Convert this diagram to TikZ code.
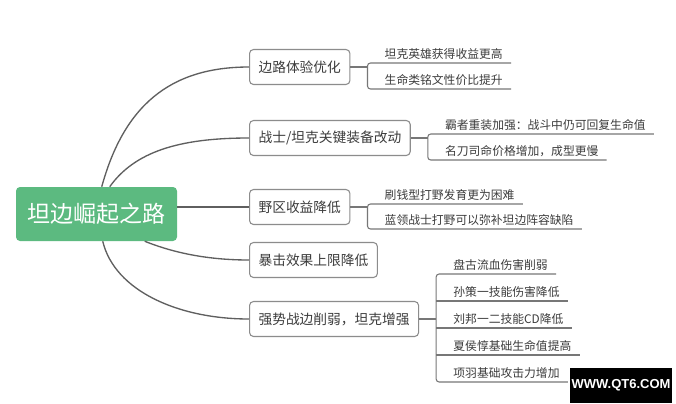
\documentclass[tikz,border=0pt]{standalone}
\usepackage{fontspec}
\setmainfont{Noto Sans CJK SC}
\newfontfamily\wmfont{Liberation Sans}
\usetikzlibrary{calc}
\definecolor{rootgreen}{RGB}{92,186,128}
\definecolor{linegray}{RGB}{95,95,95}
\definecolor{boxgray}{RGB}{140,140,140}
\definecolor{txtgray}{RGB}{60,60,60}
\begin{document}
\begin{tikzpicture}[x=0.75pt,y=-0.75pt,
  rootnode/.style={fill=rootgreen, rounded corners=3pt, text=white,
    font=\fontsize{17.25pt}{20pt}\selectfont,
    minimum width=120.75pt, minimum height=40.5pt, inner sep=0pt},
  branch/.style={draw=boxgray, line width=0.8pt, rounded corners=3pt, fill=white,
    text=txtgray, font=\fontsize{10.3pt}{12pt}\selectfont,
    minimum height=26.25pt, inner xsep=6.75pt, anchor=west},
  leaf/.style={anchor=south west, inner xsep=0pt, inner ysep=3.375pt, text depth=0pt,
    text=txtgray, font=\fontsize{8.85pt}{10pt}\selectfont,
    execute at begin node={\hspace*{12.75pt}}, execute at end node={\hspace*{6pt}}},
  conn/.style={draw=linegray, line width=1pt},
  uline/.style={draw=linegray!85, line width=0.8pt},
  bracket/.style={uline, rounded corners=2.25pt},
  watermark/.style={fill=black, text=white, font=\wmfont\bfseries\fontsize{9.75pt}{10pt}\selectfont,
    minimum width=76.5pt, minimum height=26.25pt, inner sep=0pt}
]
\useasboundingbox (0,0) rectangle (676,404);
\fill[white] (0,0) rectangle (676,404);

% root and branches
\node[rootnode] (root) at (96.5,214) {坦边崛起之路};
\node[branch] (b1) at (249,67) {边路体验优化};
\node[branch] (b2) at (249,138) {战士/坦克关键装备改动};
\node[branch] (b3) at (249,207) {野区收益降低};
\node[branch] (b4) at (249,260) {暴击效果上限降低};
\node[branch] (b5) at (249,319) {强势战边削弱，坦克增强};

% root connectors
\draw[conn] ([xshift=64.5pt]root.north west) .. controls +(22,-80) and +(-80,0) .. (b1.west);
\draw[conn] ([xshift=70.5pt]root.north west) .. controls +(25,-35) and +(-70,0) .. (b2.west);
\draw[conn] (root.east |- b3.west) -- (b3.west);
\draw[conn] ([xshift=96.75pt]root.south west) .. controls +(30,12) and +(-40,0) .. (b4.west);
\draw[conn] ([xshift=65.25pt]root.south west) .. controls +(12,50) and +(-70,0) .. (b5.west);

% leaves group 1
\node[leaf] (l11) at ([xshift=12.75pt,yshift=3pt]b1.east) {坦克英雄获得收益更高};
\node[leaf] (l12) at ([xshift=12.75pt,yshift=-16.5pt]b1.east) {生命类铭文性价比提升};
\draw[uline] (b1.east) -- (b1.east -| l11.south west);
\draw[bracket] (l11.south east) -- (l11.south west) -- (l12.south west) -- (l12.south east);

% leaves group 2
\node[leaf] (l21) at ([xshift=12.75pt,yshift=3pt]b2.east) {霸者重装加强：战斗中仍可回复生命值};
\node[leaf] (l22) at ([xshift=12.75pt,yshift=-16.5pt]b2.east) {名刀司命价格增加，成型更慢};
\draw[uline] (b2.east) -- (b2.east -| l21.south west);
\draw[bracket] (l21.south east) -- (l21.south west) -- (l22.south west) -- (l22.south east);

% leaves group 3
\node[leaf] (l31) at ([xshift=12.75pt,yshift=2.25pt]b3.east) {刷钱型打野发育更为困难};
\node[leaf] (l32) at ([xshift=12.75pt,yshift=-16.5pt]b3.east) {蓝领战士打野可以弥补坦边阵容缺陷};
\draw[uline] (b3.east) -- (b3.east -| l31.south west);
\draw[bracket] (l31.south east) -- (l31.south west) -- (l32.south west) -- (l32.south east);

% leaves group 5
\node[leaf] (l51) at ([xshift=12.75pt,yshift=33.75pt]b5.east) {盘古流血伤害削弱};
\node[leaf] (l52) at ([xshift=12.75pt,yshift=13.5pt]b5.east) {孙策一技能伤害降低};
\node[leaf] (l53) at ([xshift=12.75pt,yshift=-6.75pt]b5.east) {刘邦一二技能CD降低};
\node[leaf] (l54) at ([xshift=12.75pt,yshift=-27pt]b5.east) {夏侯惇基础生命值提高};
\node[leaf] (l55) at ([xshift=12.75pt,yshift=-47.25pt]b5.east) {项羽基础攻击力增加};
\draw[uline] (b5.east) -- (b5.east -| l51.south west);
\draw[bracket] (l51.south east) -- (l51.south west) -- (l55.south west) -- (l55.south east);
\draw[uline] (l52.south west) -- (l52.south east);
\draw[uline] (l53.south west) -- (l53.south east);
\draw[uline] (l54.south west) -- (l54.south east);

% watermark
\node[watermark] (wm) at (621,385) {WWW.QT6.COM};
\end{tikzpicture}
\end{document}
